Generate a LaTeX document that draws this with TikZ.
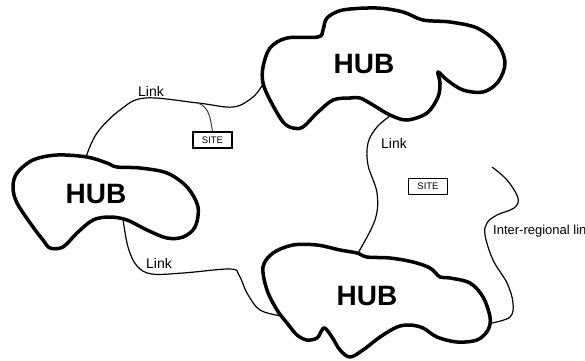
\documentclass[tikz,border=0pt]{standalone}
\usepackage{fontspec}
\setmainfont{Liberation Sans}
\usepackage{tikz}

\begin{document}
\begin{tikzpicture}[x=1pt,y=-1pt,
hubnode/.style={font=\fontsize{28}{28}\selectfont\bfseries, inner sep=0pt},
blobline/.style={line width=3.5pt, line join=round},
linkline/.style={line width=1.2pt},
labelnode/.style={font=\fontsize{14}{14}\selectfont, inner sep=0pt},
sitenode/.style={rectangle, draw=black, line width=1.3pt, font=\fontsize{9.5}{9.5}\selectfont, minimum width=39pt, minimum height=16pt, inner sep=0pt},
]
\useasboundingbox (0,0) rectangle (585,360);

%Hubs
\draw[blobline] plot[smooth cycle, tension=0.55] coordinates {(263,67) (270,48) (287,38) (318,37) (323,30) (327,18) (343,10) (377,8) (403,12) (423,20) (450,22) (477,28) (497,43) (505,63) (498,82) (483,92) (463,90) (447,80) (438,72) (440,83) (438,97) (427,113) (407,120) (390,115) (373,105) (360,98) (350,98) (333,100) (317,113) (303,127) (293,128) (283,122) (270,100) (263,83)};
\draw[blobline] plot[smooth cycle, tension=0.55] coordinates {(17,173) (33,160) (57,155) (87,157) (107,163) (117,167) (140,168) (167,173) (187,187) (198,207) (195,227) (183,237) (167,238) (147,230) (127,220) (110,217) (93,220) (77,233) (63,247) (50,248) (43,240) (33,227) (17,203) (13,187)};
\draw[blobline] plot[smooth cycle, tension=0.55] coordinates {(263,267) (273,253) (293,245) (317,245) (340,250) (357,253) (367,257) (390,258) (413,262) (430,268) (440,277) (450,278) (470,283) (483,297) (490,317) (488,330) (477,340) (457,342) (437,337) (423,328) (410,325) (397,327) (380,337) (363,350) (350,357) (340,350) (332,337) (325,328) (322,330) (317,338) (307,340) (297,335) (287,323) (277,310) (267,290)};

%Nodes
\node[hubnode](HubTop) at (364,64){HUB};
\node[hubnode](HubLeft) at (96,194){HUB};
\node[hubnode](HubBottom) at (367,296){HUB};
\node[sitenode](SiteA) at (212.5,140){SITE};
\node[sitenode](SiteB) at (428,186.5){SITE};
\node[labelnode](LinkA) at (151,91){Link};
\node[labelnode](LinkB) at (394,143){Link};
\node[labelnode](LinkC) at (159,263){Link};
\node[labelnode, font=\fontsize{13}{13}\selectfont, anchor=west](Inter) at (493,231){Inter-regional link};

%Ends
\coordinate (HubTop-w) at (263,84);
\coordinate (HubTop-s) at (390,116);
\coordinate (HubLeft-n) at (86,157);
\coordinate (HubLeft-s) at (123,219);
\coordinate (HubBottom-n) at (358,253);
\coordinate (HubBottom-w) at (282,316);
\coordinate (HubBottom-e) at (492,323);
\coordinate (Tap) at (198,103);
\coordinate (InterEnd) at (492,167);

%Lines
\draw[linkline] plot[smooth, tension=0.6] coordinates {(HubLeft-n) (97,133) (120,110) (145,98) (Tap) (233,107) (253,97) (HubTop-w)};
\draw[linkline, line width=1pt, draw=black!75] (Tap) to[out=-20, in=100] (SiteA.north);
\draw[linkline] plot[smooth, tension=0.6] coordinates {(HubTop-s) (377,127) (368,143) (368,165) (377,193) (375,220) (HubBottom-n)};
\draw[linkline] plot[smooth, tension=0.6] coordinates {(HubLeft-s) (128,247) (137,266) (152,274) (183,273) (230,269) (239,275) (247,293) (260,310) (HubBottom-w)};
\draw[linkline] plot[smooth, tension=0.6] coordinates {(InterEnd) (507,180) (518,198) (514,208) (497,215) (487,223) (485,235) (493,260) (507,283) (513,303) (510,317) (HubBottom-e)};
\end{tikzpicture}
\end{document}
